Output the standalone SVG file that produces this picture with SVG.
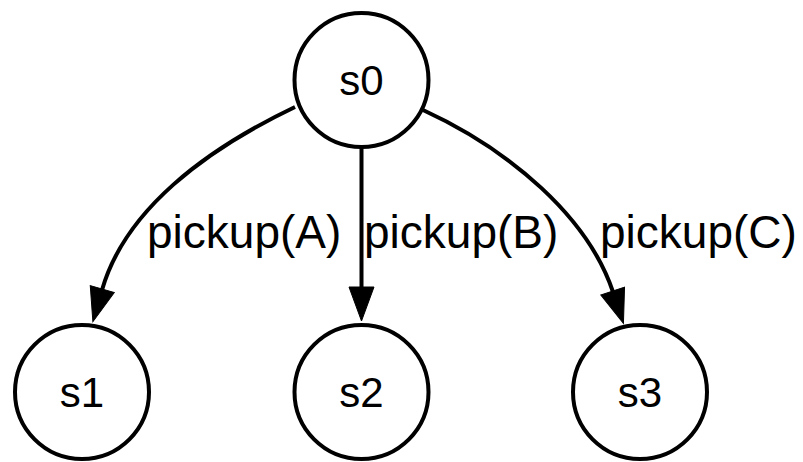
<svg xmlns="http://www.w3.org/2000/svg" width="803" height="462" viewBox="0 0 803 462">
<style>
.node{fill:#fff;stroke:#000;stroke-width:4}
.nt{font-family:"Liberation Sans",Arial,sans-serif;font-size:42px;fill:#000;text-anchor:middle}
.edge{fill:none;stroke:#000;stroke-width:4}
.lbl{font-family:"Liberation Sans",Arial,sans-serif;font-size:46px;fill:#000}
</style>
<defs>
<marker id="arr" markerUnits="userSpaceOnUse" markerWidth="36" markerHeight="26" refX="1" refY="12.5" orient="auto" overflow="visible">
<path d="M0,0 L34,12.5 L0,25 z" fill="#000" stroke="#000" stroke-width="1"/>
</marker>
</defs>
<g id="edges">
<g id="e1"><path class="edge" d="M295,107 C205,150 125,210 102,290" marker-end="url(#arr)"/><text class="lbl" x="147" y="248">pickup(A)</text></g>
<g id="e2"><path class="edge" d="M361.5,147 L361.5,288" marker-end="url(#arr)"/><text class="lbl" x="364" y="248">pickup(B)</text></g>
<g id="e3"><path class="edge" d="M423,110 C510,150 588,217 613,292" marker-end="url(#arr)"/><text class="lbl" x="600" y="248">pickup(C)</text></g>
</g>
<g id="s0"><circle class="node" cx="361.5" cy="80" r="67"/><text class="nt" x="361.5" y="95">s0</text></g>
<g id="s1"><circle class="node" cx="82" cy="392" r="67"/><text class="nt" x="82" y="407">s1</text></g>
<g id="s2"><circle class="node" cx="361.5" cy="392" r="67"/><text class="nt" x="361.5" y="407">s2</text></g>
<g id="s3"><circle class="node" cx="640" cy="392" r="67"/><text class="nt" x="640" y="407">s3</text></g>
</svg>
